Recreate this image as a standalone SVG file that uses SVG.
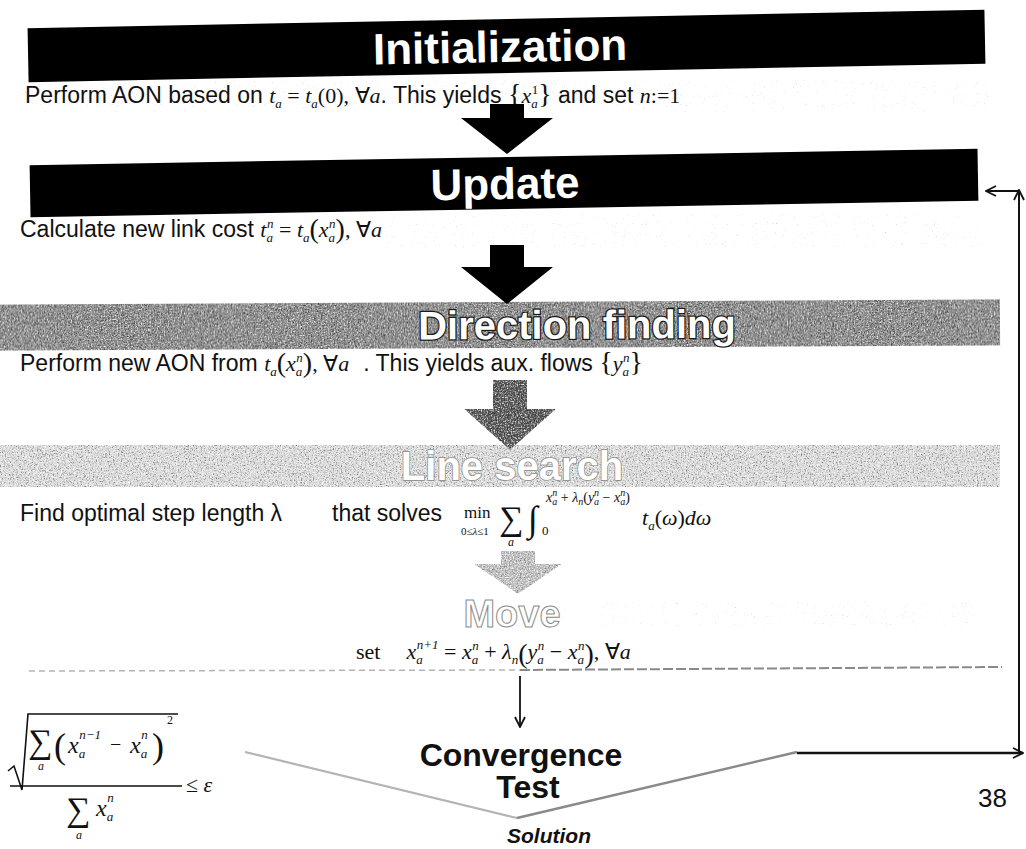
<svg xmlns="http://www.w3.org/2000/svg" width="1026" height="849" viewBox="0 0 1026 849">
  <style>
    .body { font-family: "Liberation Sans", Arial, sans-serif; font-size: 23px; fill: #111; }
    .m { font-family: "Liberation Serif", "Times New Roman", serif; font-style: italic; font-size: 22px; fill: #111; }
    .up { font-style: normal; }
    .sub { font-size: 13px; }
    .tiny { font-size: 10px; }
    .br { font-family: "Liberation Serif", "Times New Roman", serif; font-style: normal; font-size: 28px; }
    .title { font-family: "Liberation Sans", Arial, sans-serif; font-weight: bold; font-size: 44px; text-anchor: middle; }
    .conv { font-family: "Liberation Sans", Arial, sans-serif; font-weight: bold; font-size: 32px; fill: #111; text-anchor: middle; }
    .thin { fill: none; stroke: #111; stroke-width: 1.6; }
  </style>
  <defs>
    <!-- halftone grain for the gray bands: dark and light dots clipped to the shape -->
    <filter id="speck" x="0" y="0" width="1" height="1" color-interpolation-filters="sRGB">
      <feTurbulence type="fractalNoise" baseFrequency="0.7" numOctaves="2" seed="4" result="n"/>
      <feColorMatrix in="n" type="matrix" values="0 0 0 0 0.15  0 0 0 0 0.15  0 0 0 0 0.15  0 0 0 2.6 -1.2" result="dark"/>
      <feColorMatrix in="n" type="matrix" values="0 0 0 0 1  0 0 0 0 1  0 0 0 0 1  2.6 0 0 0 -1.2" result="light"/>
      <feMerge result="all"><feMergeNode in="SourceGraphic"/><feMergeNode in="dark"/><feMergeNode in="light"/></feMerge>
      <feComposite in="all" in2="SourceAlpha" operator="in"/>
    </filter>
    <!-- lighter grain: mostly white with gray dots -->
    <filter id="speck-light" x="0" y="0" width="1" height="1" color-interpolation-filters="sRGB">
      <feTurbulence type="fractalNoise" baseFrequency="0.75" numOctaves="2" seed="9" result="n"/>
      <feColorMatrix in="n" type="matrix" values="0 0 0 0 0.45  0 0 0 0 0.45  0 0 0 0 0.45  0 0 0 3 -1.45" result="dark"/>
      <feColorMatrix in="n" type="matrix" values="0 0 0 0 1  0 0 0 0 1  0 0 0 0 1  3 0 0 0 -1.35" result="light"/>
      <feMerge result="all"><feMergeNode in="SourceGraphic"/><feMergeNode in="dark"/><feMergeNode in="light"/></feMerge>
      <feComposite in="all" in2="SourceAlpha" operator="in"/>
    </filter>
    <!-- faint gray dots on white paper -->
    <filter id="paper" x="0" y="0" width="1" height="1" color-interpolation-filters="sRGB">
      <feTurbulence type="fractalNoise" baseFrequency="0.9" numOctaves="2" seed="11" result="n"/>
      <feColorMatrix in="n" type="matrix" values="0 0 0 0 0.72  0 0 0 0 0.72  0 0 0 0 0.72  0 0 0 3.2 -2.25"/>
    </filter>
    <marker id="open" viewBox="0 0 12 12" refX="11" refY="6" markerWidth="12" markerHeight="12" markerUnits="userSpaceOnUse" orient="auto">
      <path d="M1,1 L11,6 L1,11" fill="none" stroke="#111" stroke-width="1.8"/>
    </marker>
  </defs>

  <rect width="1026" height="849" fill="#fff"/>

  <!-- paper speckle behind the text rows -->
  <g id="paper-speckle">
    <rect x="20" y="80" width="970" height="32" fill="#fff" filter="url(#paper)"/>
    <rect x="380" y="214" width="600" height="34" fill="#fff" filter="url(#paper)"/>
    <rect x="600" y="602" width="380" height="24" fill="#fff" filter="url(#paper)"/>
  </g>

  <!-- Initialization -->
  <g id="initialization">
    <g transform="rotate(-1.1 505 46)">
      <rect x="28" y="19" width="957" height="54" fill="#000"/>
      <text class="title" x="500" y="62" fill="#fff">Initialization</text>
    </g>
    <text class="body" x="25" y="103">Perform AON based on <tspan class="m">t<tspan class="sub" dy="5">a</tspan><tspan class="up" dy="-5"> = </tspan>t<tspan class="sub" dy="5">a</tspan><tspan class="up" dy="-5">(0), ∀</tspan>a</tspan>. This yields <tspan class="br">{</tspan><tspan class="m">x<tspan class="sub" dy="5">a</tspan><tspan class="sub up" dx="-6" dy="-14">1</tspan></tspan><tspan class="br" dy="9">}</tspan> and set <tspan class="m">n<tspan class="up">:=1</tspan></tspan></text>
  </g>

  <!-- Update -->
  <g id="update">
    <g transform="rotate(-1 504 183)">
      <rect x="30" y="157" width="948" height="52" fill="#000"/>
      <text class="title" x="505" y="199" fill="#fff">Update</text>
    </g>
    <text class="body" x="20" y="237">Calculate new link cost <tspan class="m">t<tspan class="sub" dy="5">a</tspan><tspan class="sub" dx="-6" dy="-14">n</tspan><tspan class="up" dy="9"> = </tspan>t<tspan class="sub" dy="5">a</tspan><tspan class="br" dy="-4">(</tspan><tspan dy="-1">x</tspan><tspan class="sub" dy="5">a</tspan><tspan class="sub" dx="-6" dy="-14">n</tspan><tspan class="br" dy="10">)</tspan><tspan class="up" dy="-1">, ∀</tspan>a</tspan></text>
  </g>

  <!-- Direction finding -->
  <g id="direction-finding">
    <g transform="rotate(-0.3 500 325)">
      <rect x="0" y="302" width="1000" height="46" fill="#8c8c8c" filter="url(#speck)"/>
      <text class="title" x="577" y="339" style="font-size:40px" fill="#fff" stroke="#1a1a1a" stroke-width="2.5" paint-order="stroke">Direction finding</text>
    </g>
    <text class="body" x="20" y="371">Perform new AON from <tspan class="m">t<tspan class="sub" dy="5">a</tspan><tspan class="br" dy="-4">(</tspan><tspan dy="-1">x</tspan><tspan class="sub" dy="5">a</tspan><tspan class="sub" dx="-6" dy="-14">n</tspan><tspan class="br" dy="10">)</tspan><tspan class="up" dy="-1">, ∀</tspan>a</tspan><tspan dx="14">. This yields aux. flows </tspan><tspan class="br">{</tspan><tspan class="m">y<tspan class="sub" dy="5">a</tspan><tspan class="sub" dx="-6" dy="-14">n</tspan></tspan><tspan class="br" dy="9">}</tspan></text>
  </g>

  <!-- Line search -->
  <g id="line-search">
    <rect x="0" y="445" width="1000" height="42" fill="#dcdcdc" filter="url(#speck-light)"/>
    <text class="title" x="512" y="480" style="font-size:40px" fill="#fff" stroke="#8a8a8a" stroke-width="1.5" paint-order="stroke">Line search</text>
    <text class="body" x="20" y="521">Find optimal step length λ</text>
    <text class="body" x="332" y="521">that solves</text>
    <text class="m up" x="464" y="518" style="font-size:17px">min</text>
    <text class="m up" x="461" y="535" style="font-size:11px">0≤<tspan style="font-style:italic">λ</tspan>≤1</text>
    <text class="m up" x="499" y="530" style="font-size:34px">∑</text>
    <text class="m" x="508" y="546" style="font-size:12px">a</text>
    <text class="m up" x="528" y="531" style="font-size:36px">∫</text>
    <text class="m up" x="542" y="535" style="font-size:13px">0</text>
    <text class="m" x="546" y="502" style="font-size:14px">x<tspan class="tiny" dy="3">a</tspan><tspan class="tiny" dx="-5" dy="-9">n</tspan><tspan class="up" dy="6"> + </tspan>λ<tspan class="tiny" dy="3">n</tspan><tspan class="up" dy="-3">(</tspan>y<tspan class="tiny" dy="3">a</tspan><tspan class="tiny" dx="-5" dy="-9">n</tspan><tspan class="up" dy="6"> − </tspan>x<tspan class="tiny" dy="3">a</tspan><tspan class="tiny" dx="-5" dy="-9">n</tspan><tspan class="up" dy="6">)</tspan></text>
    <text class="m" x="642" y="525">t<tspan class="sub" dy="5">a</tspan><tspan class="up" dy="-5">(</tspan>ω<tspan class="up">)</tspan>dω</text>
  </g>

  <!-- Move -->
  <g id="move">
    <text class="title" x="512" y="627" style="font-size:38px" fill="#fff" stroke="#8c8c8c" stroke-width="1">Move</text>
    <text class="m" x="356" y="659"><tspan class="up">set</tspan><tspan dx="26">x</tspan><tspan class="sub" dy="5">a</tspan><tspan class="sub" dx="-6" dy="-15">n+1</tspan><tspan class="up" dy="10"> = </tspan>x<tspan class="sub" dy="5">a</tspan><tspan class="sub" dx="-6" dy="-14">n</tspan><tspan class="up" dy="9"> + </tspan>λ<tspan class="sub" dy="5">n</tspan><tspan class="br" dy="-1">(</tspan><tspan dy="-4">y</tspan><tspan class="sub" dy="5">a</tspan><tspan class="sub" dx="-6" dy="-14">n</tspan><tspan class="up" dy="9"> − </tspan>x<tspan class="sub" dy="5">a</tspan><tspan class="sub" dx="-6" dy="-14">n</tspan><tspan class="br" dy="13">)</tspan><tspan class="up" dy="-4">, ∀</tspan>a</text>
  </g>

  <!-- Convergence test -->
  <g id="convergence-test">
    <text class="conv" x="521" y="766">Convergence</text>
    <text class="conv" x="528" y="798">Test</text>
    <text x="549" y="843" font-family="Liberation Sans, Arial, sans-serif" font-weight="bold" font-style="italic" font-size="21" fill="#111" text-anchor="middle">Solution</text>
  </g>

  <!-- convergence criterion -->
  <g id="criterion" class="m">
    <path class="thin" d="M8,771 L14,766 L22,790 L28,714 L178,714" stroke-width="1.4"/>
    <text class="up" x="28" y="753" style="font-size:34px">∑</text>
    <text x="38" y="770" font-size="12">a</text>
    <text class="up" x="54" y="758" style="font-size:36px">(</text>
    <text x="68" y="753" font-size="24">x<tspan class="sub" dy="5">a</tspan><tspan class="sub" dx="-6" dy="-19">n−1</tspan></text>
    <text class="up" x="110" y="751" font-size="20">−</text>
    <text x="130" y="753" font-size="24">x<tspan class="sub" dy="5">a</tspan><tspan class="sub" dx="-6" dy="-19">n</tspan></text>
    <text class="up" x="152" y="758" style="font-size:36px">)</text>
    <text class="up" x="167" y="724" font-size="12">2</text>
    <line x1="10" y1="786" x2="182" y2="786" stroke="#111" stroke-width="1.3"/>
    <text x="186" y="792"><tspan class="up">≤ </tspan>ε</text>
    <text class="up" x="66" y="821" style="font-size:34px">∑</text>
    <text x="76" y="839" font-size="12">a</text>
    <text x="96" y="816" font-size="24">x<tspan class="sub" dy="5">a</tspan><tspan class="sub" dx="-6" dy="-19">n</tspan></text>
  </g>

  <!-- slide number -->
  <text id="page-number" x="978" y="807" font-family="Liberation Sans, Arial, sans-serif" font-size="26" fill="#111">38</text>

  <!-- block arrows between steps -->
  <g id="block-arrows">
    <polygon points="490,104 524,104 524,118 553,118 507,154 461,118 490,118" fill="#000"/>
    <polygon points="490,245 524,245 524,267 553,267 507,304 461,267 490,267" fill="#000"/>
    <polygon points="493,380 527,380 527,409 556,409 510,450 464,409 493,409" fill="#555" filter="url(#speck)"/>
    <polygon points="501,551 535,551 535,564 562,564 518,594 474,564 501,564" fill="#bcbcbc" filter="url(#speck-light)"/>
  </g>

  <!-- connectors -->
  <g id="connectors">
    <line x1="29" y1="671" x2="520" y2="670" stroke="#b4b4b4" stroke-width="1.5" stroke-dasharray="6 4"/>
    <line x1="520" y1="670" x2="1002" y2="667" stroke="#8a8a8a" stroke-width="2" stroke-dasharray="10 3"/>
    <line x1="520" y1="676" x2="520" y2="727" stroke="#111" stroke-width="1.8" marker-end="url(#open)"/>
    <polyline points="245,752 517,818" fill="none" stroke="#b4b4b4" stroke-width="2.2"/>
    <polyline points="517,818 797,752" fill="none" stroke="#8a8a8a" stroke-width="2.4"/>
    <line x1="797" y1="753" x2="1023" y2="753" stroke="#111" stroke-width="2.4" marker-end="url(#open)"/>
    <line x1="1019" y1="753" x2="1019" y2="190" stroke="#111" stroke-width="2" marker-end="url(#open)"/>
    <line x1="1019" y1="191" x2="986" y2="191" stroke="#111" stroke-width="2" marker-end="url(#open)"/>
  </g>
</svg>
